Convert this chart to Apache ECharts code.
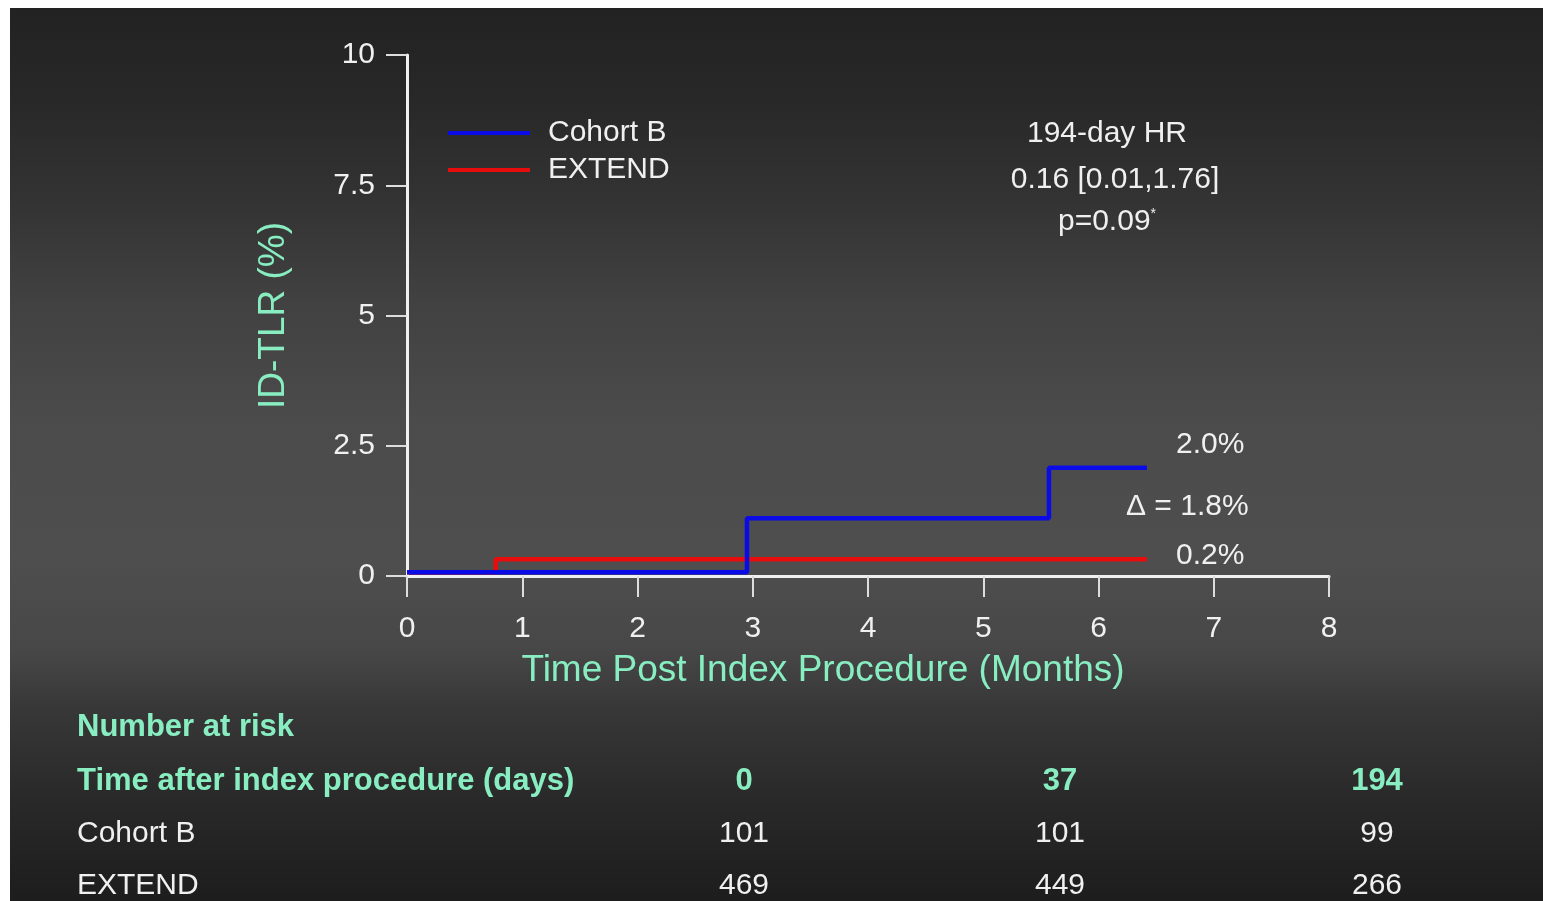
<!DOCTYPE html>
<html>
<head>
<meta charset="utf-8">
<title>ID-TLR Kaplan-Meier</title>
<script src="https://cdn.jsdelivr.net/npm/echarts@6/dist/echarts.min.js"></script>
<style>
  html, body { margin: 0; padding: 0; background: #ffffff; }
  #main { width: 1543px; height: 901px; }
</style>
</head>
<body>
<div id="main"></div>
<script>
// 曲线数据 [月份, ID-TLR %]
const cohortB = [[0, 0.07], [2.95, 1.11], [5.57, 2.08], [6.42, 2.08]]
const extend = [[0, 0.07], [0.77, 0.32], [6.42, 0.32]]
const seriesNames = ['Cohort B', 'EXTEND']
// 坐标轴
const xTicks = [0, 8, 1]
const yTicks = [0, 10, 2.5]
// 注释文字
const hrLines = ['194-day HR', '0.16 [0.01,1.76]', 'p=0.09']
const endLabels = ['2.0%', 'Δ = 1.8%', '0.2%']
// Number at risk 表
const riskDays = [0, 37, 194]
const riskCohortB = [101, 101, 99]
const riskExtend = [469, 449, 266]

const FONT = "'Liberation Sans', Arial, sans-serif"
const WHITE = '#f0f0f0'
const GREEN = '#88eec2'

const chart = echarts.init(document.getElementById('main'))

// 文字
const txt = (text, x, y, opt) => ({
  type: 'text',
  x, y,
  style: Object.assign({
    text,
    fill: WHITE,
    fontSize: 30,
    fontFamily: FONT,
    align: 'left',
    verticalAlign: 'middle'
  }, opt || {})
})

const graphics = [
  // 背景
  {
    type: 'rect',
    z: -10,
    shape: { x: 10, y: 8, width: 1533, height: 893 },
    style: {
      fill: new echarts.graphic.LinearGradient(0, 0, 0, 1, [
        { offset: 0, color: '#222222' },
        { offset: 0.103, color: '#282828' },
        { offset: 0.215, color: '#333333' },
        { offset: 0.327, color: '#414141' },
        { offset: 0.461, color: '#4b4b4b' },
        { offset: 0.618, color: '#4e4e4e' },
        { offset: 0.72, color: '#474747' },
        { offset: 0.78, color: '#383838' },
        { offset: 0.887, color: '#292929' },
        { offset: 1, color: '#1d1d1d' }
      ])
    }
  },
  // HR
  txt(hrLines[0], 1107, 134, { align: 'center' }),
  txt(hrLines[1], 1115, 180, { align: 'center' }),
  {
    type: 'text',
    x: 1107, y: 222,
    style: {
      text: '{a|' + hrLines[2] + '}{s|*}',
      align: 'center',
      verticalAlign: 'middle',
      rich: {
        a: { fontSize: 30, fontFamily: FONT, fill: WHITE, color: WHITE },
        s: { fontSize: 14, fontFamily: FONT, fill: WHITE, color: WHITE, verticalAlign: 'top', padding: [0, 0, 14, 0] }
      }
    }
  },
  // 末端标注
  txt(endLabels[0], 1176, 445),
  txt(endLabels[1], 1126, 507),
  txt(endLabels[2], 1176, 556),
  // 表头
  txt('Number at risk', 77, 727, { fill: GREEN, fontWeight: 'bold', fontSize: 31 }),
  txt('Time after index procedure (days)', 77, 781, { fill: GREEN, fontWeight: 'bold', fontSize: 31 }),
  txt(seriesNames[0], 77, 834),
  txt(seriesNames[1], 77, 886)
]

const colX = [744, 1060, 1377]
riskDays.forEach((d, i) => {
  graphics.push(txt(String(d), colX[i], 781, { fill: GREEN, fontWeight: 'bold', fontSize: 31, align: 'center' }))
  graphics.push(txt(String(riskCohortB[i]), colX[i], 834, { align: 'center' }))
  graphics.push(txt(String(riskExtend[i]), colX[i], 886, { align: 'center' }))
})

const axisCommon = {
  type: 'value',
  splitLine: { show: false },
  axisLine: { show: true, lineStyle: { color: WHITE, width: 3 } },
  axisTick: { show: true, inside: false, length: 21, lineStyle: { color: '#dddddd', width: 2 } },
  nameLocation: 'middle',
  nameTextStyle: { color: GREEN, fontFamily: FONT }
}

const option = {
  animation: false,
  backgroundColor: 'transparent',
  textStyle: { fontFamily: FONT },
  grid: { left: 407, right: 214, top: 55, bottom: 325 },
  legend: {
    data: seriesNames,
    orient: 'vertical',
    left: 448,
    top: 117,
    padding: 0,
    icon: 'rect',
    itemWidth: 82,
    itemHeight: 4,
    itemGap: 5,
    textStyle: { color: WHITE, fontSize: 30, fontFamily: FONT, lineHeight: 32, padding: [0, 0, 0, 13] }
  },
  xAxis: Object.assign({}, axisCommon, {
    min: xTicks[0],
    max: xTicks[1],
    interval: xTicks[2],
    name: 'Time Post Index Procedure (Months)',
    nameGap: 76,
    nameTextStyle: { color: GREEN, fontFamily: FONT, fontSize: 37, padding: [0, 90, 0, 0] },
    axisLabel: { color: WHITE, fontSize: 30, margin: 38, fontFamily: FONT }
  }),
  yAxis: Object.assign({}, axisCommon, {
    min: yTicks[0],
    max: yTicks[1],
    interval: yTicks[2],
    name: 'ID-TLR (%)',
    nameGap: 115,
    nameRotate: 90,
    nameTextStyle: { color: GREEN, fontFamily: FONT, fontSize: 37 },
    axisLabel: { color: WHITE, fontSize: 30, margin: 32, fontFamily: FONT }
  }),
  series: [
    {
      name: seriesNames[1],
      type: 'line',
      step: 'end',
      showSymbol: false,
      data: extend,
      z: 2,
      itemStyle: { color: '#e80c0c' },
      lineStyle: { color: '#e80c0c', width: 4.5 }
    },
    {
      name: seriesNames[0],
      type: 'line',
      step: 'end',
      showSymbol: false,
      data: cohortB,
      z: 3,
      itemStyle: { color: '#0b0be8' },
      lineStyle: { color: '#0b0be8', width: 4.5 }
    }
  ],
  graphic: graphics
}

chart.setOption(option)
window.addEventListener('resize', chart.resize)
</script>
</body>
</html>
